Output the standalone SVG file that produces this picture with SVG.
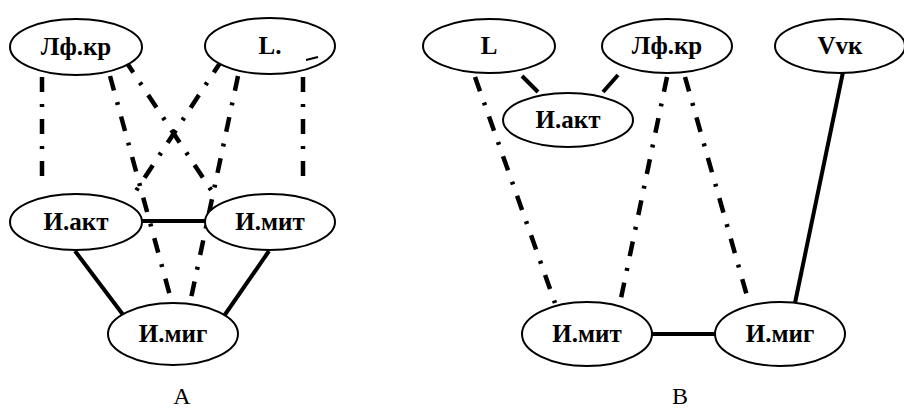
<svg xmlns="http://www.w3.org/2000/svg" width="904" height="410" viewBox="0 0 904 410">
<style>
.node ellipse{fill:#fff;stroke:#000;stroke-width:2}
.node text{font-family:"Liberation Serif","Times New Roman",serif;font-weight:bold;font-size:25px;text-anchor:middle;fill:#000}
.dd{stroke:#000;stroke-width:4.5;fill:none;stroke-dasharray:15 12 3 12}
.solid{stroke:#000;stroke-width:4;fill:none}
.cap{font-family:"Liberation Serif","Times New Roman",serif;font-size:24px;text-anchor:middle;fill:#000}
</style>
<rect width="904" height="410" fill="#fff"/>
<g id="connectors">
<line class="dd" x1="42" y1="77" x2="42" y2="184"/>
<line class="dd" x1="303" y1="77" x2="303" y2="184"/>
<line class="dd" x1="110" y1="76" x2="172" y2="303"/>
<line class="dd" x1="238" y1="76" x2="190" y2="303"/>
<line class="dd" x1="125" y1="60" x2="217" y2="199"/>
<line class="dd" x1="222" y1="60" x2="132" y2="197"/>
<line class="solid" x1="142" y1="221" x2="206" y2="221"/>
<line class="solid" x1="75" y1="251" x2="124" y2="316"/>
<line class="solid" x1="269" y1="251" x2="224" y2="316"/>
<line class="solid" x1="522" y1="76" x2="538" y2="92"/>
<line class="solid" x1="618" y1="75" x2="603" y2="92"/>
<line class="dd" x1="475" y1="77" x2="555" y2="303"/>
<line class="dd" x1="667" y1="77" x2="620" y2="303"/>
<line class="dd" x1="685" y1="77" x2="749" y2="303"/>
<line class="solid" x1="843" y1="72" x2="795" y2="303"/>
<line class="solid" x1="652" y1="334" x2="716" y2="334"/>
</g>
<g id="A-lfkr" class="node"><ellipse cx="76" cy="47" rx="66" ry="28"/><text x="76" y="55">Лф.кр</text></g>
<g id="A-L" class="node"><ellipse cx="270" cy="46" rx="65" ry="28"/><text x="270" y="54">L.</text><line x1="306" y1="60" x2="318" y2="57" stroke="#000" stroke-width="2"/></g>
<g id="A-iakt" class="node"><ellipse cx="76" cy="222" rx="66" ry="28"/><text x="76" y="230">И.акт</text></g>
<g id="A-imit" class="node"><ellipse cx="270" cy="222" rx="65" ry="28"/><text x="270" y="230">И.мит</text></g>
<g id="A-imig" class="node"><ellipse cx="173" cy="334" rx="65" ry="31"/><text x="173" y="342">И.миг</text></g>
<g id="B-L" class="node"><ellipse cx="489" cy="46" rx="66" ry="27"/><text x="489" y="54">L</text></g>
<g id="B-lfkr" class="node"><ellipse cx="667" cy="46" rx="65" ry="27"/><text x="667" y="54">Лф.кр</text></g>
<g id="B-vvk" class="node"><ellipse cx="840" cy="46" rx="65" ry="27"/><text x="840" y="54">Vvк</text></g>
<g id="B-iakt" class="node"><ellipse cx="568" cy="120" rx="65" ry="27"/><text x="568" y="128">И.акт</text></g>
<g id="B-imit" class="node"><ellipse cx="587" cy="334" rx="65" ry="32"/><text x="587" y="342">И.мит</text></g>
<g id="B-imig" class="node"><ellipse cx="780" cy="334" rx="65" ry="32"/><text x="780" y="342">И.миг</text></g>
<text class="cap" x="182" y="404">A</text>
<text class="cap" x="680" y="404">B</text>
</svg>
